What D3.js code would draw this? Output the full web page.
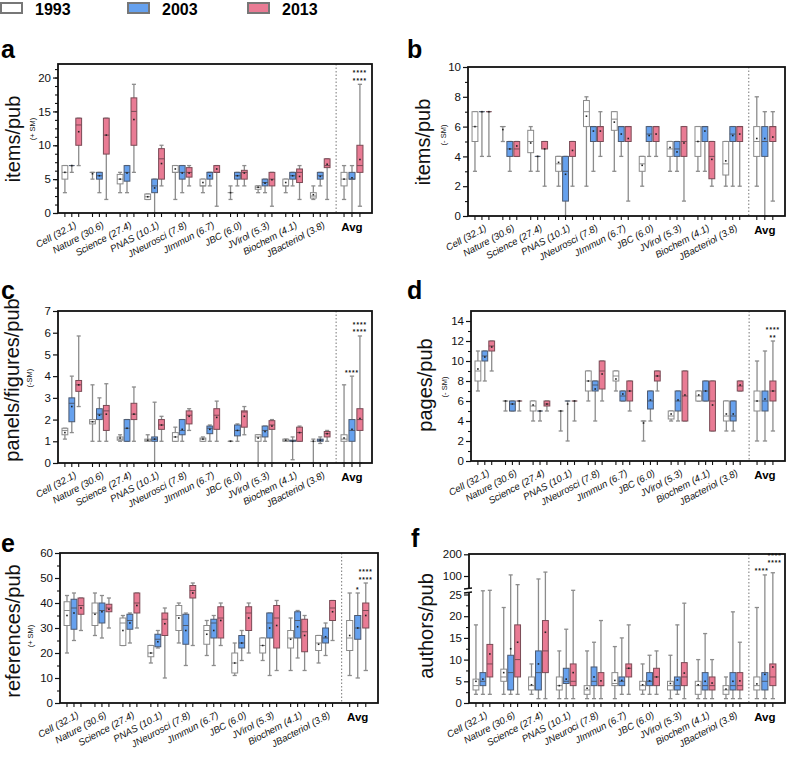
<!DOCTYPE html>
<html><head><meta charset="utf-8">
<script src="https://cdn.jsdelivr.net/npm/d3@7"></script>
<style>body{margin:0;background:#fff}svg{display:block;font-family:"Liberation Sans",Arial,sans-serif}</style>
</head><body><svg id="c" width="787" height="757"></svg>
<script>
// ---------- DATA ----------
const categories = ["Cell (32.1)","Nature (30.6)","Science (27.4)","PNAS (10.1)","JNeurosci (7.8)","JImmun (6.7)","JBC (6.0)","JVirol (5.3)","Biochem (4.1)","JBacteriol (3.8)","Avg"];
const categoriesF = ["Cell (32.1)","Nature (30.6)","Science (27.4)","PNAS (10.1)","JNeuroci (7.8)","JImmun (6.7)","JBC (6.0)","JVirol (5.3)","Biochem (4.1)","JBacteriol (3.8)","Avg"];
const years = ["1993","2003","2013"];
// each entry: [min, q1, median, q3, max, mean]
const a1993 = [[3,5,6,7,7,6],[5,6,6,6,6,5.8],[3,4.3,5,5.7,6,5],[2,2,2.4,2.8,2.8,2.4],[2,6,6,7,7,6.5],[3,4,4,5,5,4.5],[2,3,3,3,4,3],[3,3.5,3.8,4,4,3.8],[3,4,4,5,5,4.5],[2,2.2,2.5,3,4,2.7],[2,4,5,6,7,5]];
const a2003 = [[6,7,7,7,7,7],[3,5,5.5,6,6,5.5],[3,4.7,6,7,7,5.9],[0,3,4,5,5,3.7],[3,5,6,7,7,5.9],[4,5,6,6,6,5.5],[4,5,5.5,6,6,5.5],[3,4,4.5,5,5,4.4],[4,5,5.5,6,6,5.5],[4,5,5.5,6,6,5.4],[0,5,5,6,7,5.2]];
const a2013 = [[7,10,13,14,14,12],[2,8.7,11.5,14,14,11.5],[6,10,15,17,19,13.8],[4,5,8,9.5,10,7.3],[4,5.3,6,6.7,7,5.9],[1,6,6,7,7,6.5],[4,5,6,6.3,7,5.9],[1,4,5,6,6,4.9],[2,4.5,6,6.5,7,5.4],[2,6.7,7,8,8,7.2],[1,6,7,10,19,7.9]];

const b1993 = [[3,5,6,7,7,6],[5,6,6,6,6,5.8],[3,4.25,5,5.75,6,4.9],[2,3,3.5,4,4,3.6],[2,6,7,7.75,8,6.7],[3,5.75,6.5,7,7,6.3],[2,3,3.5,4,4,3.4],[3,4,4.5,5,5,4.6],[3,4,5,6,6,5],[2,2.75,3.5,5,5,3.7],[2,4,5,6,8,5.2]];
const b2003 = [[4,7,7,7,7,7],[3,4,4.5,5,5,4.5],[3,4,4,4,4,4],[0,1,3,4,4,2.8],[3,5,6,6,6,5.7],[4,5,6,6,6,5.5],[4,5,5.5,6,6,5.4],[3,4,4.5,5,5,4.3],[3,5,6,6,6,5.7],[2,5,5.5,6,6,5.4],[0,4,5,6,7,5.2]];
const b2013 = [[4,7,7,7,7,7],[4,4,4.5,5,5,4.7],[2,4.5,5,5,5,4.5],[2,4,5,5,5,4.4],[4,5,6,6,7,5.7],[1,5,6,6,6,5.2],[4,5,6,6,6,5.5],[1,4,5,6,6,4.9],[2,2.5,4,5,5,3.8],[2,5,6,6,6,5.5],[1,5,6,6,7,5.3]];

const c1993 = [[1.1,1.3,1.5,1.6,1.6,1.4],[1,1.8,1.9,2.0,3.6,1.9],[1,1.05,1.1,1.2,1.3,1.15],[1,1,1.05,1.1,1.3,1.05],[1,1,1.2,1.4,1.65,1.2],[1,1,1.1,1.15,1.2,1.1],[1,1,1,1,1,1],[0,1,1.2,1.3,1.3,1.15],[1,1,1.05,1.1,1.1,1.05],[0,1,1,1,1.1,1],[0,1,1.1,1.3,3.6,1.15]];
const c2003 = [[1.4,1.9,2.75,3.0,4.0,2.6],[1,2,2.25,2.5,3,2.2],[1,1,1.6,2,2,1.6],[0,1,1.1,1.2,2.8,1.1],[1,1.3,1.5,2,2,1.55],[1,1.35,1.6,1.7,1.75,1.55],[1,1.25,1.5,1.75,1.8,1.5],[1,1.2,1.5,1.7,1.7,1.45],[0.15,1,1.02,1.05,1.2,1.0],[0.9,1,1.05,1.1,1.2,1.05],[0,1,1.5,2,4,1.55]];
const c2013 = [[2.6,3.3,3.6,3.8,5.85,3.6],[1,1.5,2.4,2.65,3.65,2.25],[1,2,2.25,2.75,3.5,2.25],[1,1.55,1.75,2.0,2.15,1.75],[1.5,1.8,2.2,2.4,2.5,2.15],[1,1.55,2.2,2.5,2.85,2.1],[1.3,1.65,2.35,2.4,2.6,2.15],[0,1.55,1.75,1.95,2.0,1.7],[1,1,1.4,1.65,1.7,1.4],[1,1.2,1.35,1.45,1.5,1.35],[0,1.5,2,2.5,5.85,2.05]];

const d1993 = [[7,8,9,10,11,9.2],[5,6,6,6,6,6],[4,5,5.5,6,6,5.6],[3,5,5,5,5,5],[6,7,8,9,9,8],[7,8,8.5,9,9,8.2],[2,4,4,4,4,3.8],[4,4.2,4.5,5,5,4.7],[6,6,6.5,7,7,6.6],[3,4,4.5,6,6,4.7],[2,5,6,7,10,6]];
const d2003 = [[8,10,10.5,11,11,10.4],[5,5,5.7,6,6,5.7],[4,5,5,5,5,5],[2,6,6,6,6,5.7],[4,7,7.6,8,8,7.2],[6,6,6.5,7,7,6.7],[4,5.2,6,7,7,6.1],[4,5,6,7,7,6.1],[6,6,7,8,8,7],[3,4,4.5,6,6,4.7],[2,5,6,7,11,6.2]];
const d2013 = [[9,11,11.5,12,12,11.4],[5,6,6,6,6,6],[5,5.5,5.7,6,6,5.7],[4,6,6,6,6,6],[6,7.2,9,10,10,8.7],[5,6,7,8,8,7],[7,8,8.5,9,9,8.5],[4,4,6.5,9,9,6.6],[3,3,6,8,8,5.6],[7,7,7.5,8,8,7.6],[3,6,7,8,12,7]];

const e1993 = [[20,31,37,40.5,43,35],[27,31,36,40,44,35.5],[23,23,32,34,35,29],[16,18.5,20,23,23,20],[24,29,35,39,40,34],[19,23.5,29,31,33,27.5],[11,12,16,20,24,16],[17,20,23,26,26,23],[13,22,26,29,34,25.5],[16,21,24,27,27,23.5],[11,21,26,33,44,27]];
const e2003 = [[25,29.5,38,41.5,44,36],[26,32,37,40,43,36.5],[24,29.5,33,35.5,36,32],[22,22.5,25.5,27.5,29,24.5],[15,23.5,31,35.5,36,29],[15,26,32,33.5,35,29],[17,22,24,27,29,24],[11,26,32,36,36,30],[18,26,33,36.5,37,30.5],[19,24,26,30,32,26.5],[10,25.5,30,35,44,30]];
const e2013 = [[29,35.5,39,42,42,38],[30,36.5,38,39.5,42,37.5],[30,36,40,44,44,39],[10,27,33.5,36,38,31.7],[23,42,45,47,48,44],[23,26,34,38.5,40,33],[20,29,36,38.5,40,34],[13,22,34,39,41,31],[13,20.5,28.5,33.5,35,27],[25,33,38,41,41,36.5],[13,30,37,40,48,35]];

const f1993 = [[2,3,4,5.5,18,5],[2,5,6,7.8,22,7],[2,3,4,6,9,4.2],[1,3,4,6,12,4],[1,2,3,4,12,3.4],[1,4,4.5,7,13,5.2],[2,3,4,5,9,4.2],[1,3,4,5,11,4.5],[1,2,4,5,10,4.2],[1,2,3,4,6,3.2],[1,3,4,6,22,4.4]];
const f2003 = [[2,4,5,7,40,5.5],[2,3,7,11,105,12.5],[1,3,7,12,88,9],[1,4.5,5,8,17,5.5],[1,4,5,8.3,14,6],[2,4,5,6,15,5.2],[2,4,5,7,11,5.1],[2,3,4,6,18,5.3],[1,3,4,7,16,5],[1,3,4,7,21,5],[1,3,5,7,105,6.6]];
const f2013 = [[2,6,9,13.5,42,11.3],[2,6,10,18,65,14],[1,7,12,19,118,16.3],[1,4,5,9,42,7],[1,4,4,7,19,5.1],[2,6,8,9,18,8],[2,4,6,8,12,6],[1,4,6,9.3,23,6.9],[1,3,4,6,10,4.6],[1,3,4,7,14,5.1],[1,4,6,9,115,8.3]];

// significance marks on the Avg group: [seriesIndex, lines]
const starsA = [[2,["****","****"]]];
const starsC = [[1,["****"]],[2,["****","****"]]];
const starsD = [[2,["****","**"]]];
const starsE = [[1,["*"]],[2,["****","****"]]];
const starsF = [[1,["****"]],[2,["****","****"]]];

// ---------- STYLE ----------
const fills = ["#ffffff","#66a1ee","#e97b94"];
const strokes = ["#8a8a8a","#4d5a70","#7a4a55"];
const svg = d3.select("#c");

// legend
years.forEach((y,i)=>{
  const x0=[1,128,248][i];
  svg.append("rect").attr("x",x0).attr("y",3).attr("width",21).attr("height",10)
    .attr("fill",fills[i]).attr("stroke","#777").attr("stroke-width",2);
  svg.append("text").attr("x",x0+34).attr("y",14.5).attr("font-size",16).attr("font-weight","bold").text(y);
});

function drawPanel(p){
  const g = svg.append("g");
  const x = d3.scaleLinear().domain([0,45.5]).range([p.left,p.right]);
  const y = p.y;
  const slot = (i,j)=> i<10 ? 1+4*i+j : 41.45+1.15*j;
  const bw = (x(1)-x(0))*0.84;
  // y ticks
  const ax = d3.axisLeft(y).tickValues(p.ticks).tickSize(5).tickPadding(2).tickFormat(d3.format("d"));
  const axg = g.append("g").attr("transform",`translate(${p.left},0)`).call(ax);
  axg.select(".domain").remove();
  axg.selectAll("text").attr("font-size",11.5).attr("font-family","Liberation Sans, Arial").attr("fill","#111");
  axg.selectAll("line").attr("stroke","#111").attr("stroke-width",1.2);
  const mn = d3.axisLeft(y).tickValues(p.minor).tickSize(3).tickFormat("");
  const mg = g.append("g").attr("transform",`translate(${p.left},0)`).call(mn);
  mg.select(".domain").remove();
  mg.selectAll("line").attr("stroke","#111").attr("stroke-width",1.1);
  // x ticks
  const slots=[];
  for(let i=0;i<11;i++)for(let j=0;j<3;j++)slots.push(slot(i,j));
  g.selectAll(null).data(slots).enter().append("line")
    .attr("x1",d=>x(d)).attr("x2",d=>x(d)).attr("y1",p.bottom).attr("y2",p.bottom+4)
    .attr("stroke","#111").attr("stroke-width",1.1);
  // divider
  g.append("line").attr("x1",x(40.3)).attr("x2",x(40.3)).attr("y1",p.top).attr("y2",p.bottom)
    .attr("stroke","#777").attr("stroke-width",1).attr("stroke-dasharray","1.5,2");
  // boxes
  p.data.forEach((ser,j)=>{
    ser.forEach((v,i)=>{
      const cx=x(slot(i,j)), w = i<10?bw:bw*1.05;
      const [mi,q1,md,q3,ma,me]=v;
      g.append("line").attr("x1",cx).attr("x2",cx).attr("y1",y(mi)).attr("y2",y(ma))
        .attr("stroke","#8c8c8c").attr("stroke-width",1.3);
      [mi,ma].forEach(c=>g.append("line").attr("x1",cx-w*0.35).attr("x2",cx+w*0.35)
        .attr("y1",y(c)).attr("y2",y(c)).attr("stroke","#8c8c8c").attr("stroke-width",1.3));
      g.append("rect").attr("x",cx-w/2).attr("y",y(q3)).attr("width",w).attr("height",Math.max(0,y(q1)-y(q3)))
        .attr("fill",fills[j]).attr("stroke",strokes[j]).attr("stroke-width",1);
      g.append("line").attr("x1",cx-w/2).attr("x2",cx+w/2).attr("y1",y(md)).attr("y2",y(md))
        .attr("stroke",strokes[j]).attr("stroke-width",1);
      g.append("rect").attr("x",cx-0.8).attr("y",y(me)-0.8).attr("width",1.6).attr("height",1.6).attr("fill","#222");
    });
  });
  // stars
  const LS = 7.6;
  p.stars.forEach(([j,lines],k)=>{
    const cx=x(slot(10,j))+((p.starDx&&p.starDx[k])||0), top=y(p.data[j][10][4]);
    const off = (p.starOff && p.starOff[k]) || 0;
    const base = top-1.5+off-(lines.length-1)*LS;
    lines.forEach((s,n)=>g.append("text").attr("x",cx).attr("y",base+n*LS).attr("text-anchor","middle")
      .attr("font-size",6.5).attr("letter-spacing",1).attr("font-weight","bold").attr("fill","#111").text(s));
  });
  // frame
  g.append("rect").attr("x",p.left).attr("y",p.top).attr("width",p.right-p.left).attr("height",p.bottom-p.top)
    .attr("fill","none").attr("stroke","#111").attr("stroke-width",1.8);
  if(p.brk){
    const yb=p.brk;
    g.append("rect").attr("x",p.left-5).attr("y",yb-2).attr("width",8).attr("height",4).attr("fill","#fff");
    [yb-2,yb+2].forEach(yy=>g.append("line").attr("x1",p.left-5).attr("x2",p.left+3).attr("y1",yy).attr("y2",yy-1).attr("stroke","#111").attr("stroke-width",1.3));
  }
  // x labels
  p.cats.forEach((c,i)=>{
    if(i<10){
      const gx=x(slot(i,1))+2, gy=p.bottom+8;
      g.append("text").attr("transform",`translate(${gx},${gy}) rotate(-28)`)
        .attr("text-anchor","end").attr("dy","0.72em").attr("font-size",9.6).attr("font-style","italic").attr("fill","#111").text(c);
    } else {
      g.append("text").attr("x",x(slot(10,1))).attr("y",p.bottom+18).attr("text-anchor","middle")
        .attr("font-size",11.5).attr("font-weight","bold").text(c);
    }
  });
  // y label
  g.append("text").attr("transform",`translate(${p.lx},${p.ly}) rotate(-90)`).attr("text-anchor","middle")
    .attr("font-size",20).attr("fill","#111").text(p.label);
  if(p.sub) g.append("text").attr("transform",`translate(${p.sx},${p.sy}) rotate(-90)`).attr("text-anchor","middle")
    .attr("font-size",7.5).attr("fill","#111").text(p.sub);
  g.append("text").attr("x",p.px).attr("y",p.py).attr("font-size",25).attr("font-weight","bold").text(p.letter);
}

const rng = d3.range;
drawPanel({letter:"a",px:1,py:58,left:58,right:372,top:64,bottom:213,
  y:d3.scaleLinear().domain([0,22]).range([213,64]),ticks:[0,5,10,15,20],minor:rng(0,22,1.25),
  data:[a1993,a2003,a2013],stars:starsA,cats:categories,label:"items/pub",lx:20,ly:139,sub:"(+ SM)",sx:35,sy:129});
drawPanel({letter:"b",px:407,py:58,left:468,right:785,top:67,bottom:216,
  y:d3.scaleLinear().domain([0,10]).range([216,67]),ticks:[0,2,4,6,8,10],minor:rng(1,10,2),
  data:[b1993,b2003,b2013],stars:[],cats:categories,label:"items/pub",lx:430,ly:142,sub:"(- SM)",sx:446,sy:135});
drawPanel({letter:"c",px:1,py:299,left:58,right:372,top:311,bottom:463,
  y:d3.scaleLinear().domain([0,7]).range([463,311]),ticks:[0,1,2,3,4,5,6,7],minor:[],
  data:[c1993,c2003,c2013],stars:starsC,cats:categories,label:"panels/figures/pub",lx:19,ly:380,sub:"(-SM)",sx:32,sy:378});
drawPanel({letter:"d",px:407,py:299,left:471,right:785,top:311,bottom:461,
  y:d3.scaleLinear().domain([0,15]).range([461,311]),ticks:[0,2,4,6,8,10,12,14],minor:rng(1,15,2),
  data:[d1993,d2003,d2013],stars:starsD,cats:categories,label:"pages/pub",lx:432,ly:385,sub:"(- SM)",sx:447,sy:387});
drawPanel({letter:"e",px:1,py:552,left:60,right:378,top:553,bottom:703,
  y:d3.scaleLinear().domain([0,60]).range([703,553]),ticks:[0,10,20,30,40,50,60],minor:rng(5,60,10),
  data:[e1993,e2003,e2013],stars:starsE,cats:categories,label:"references/pub",lx:20,ly:631,sub:"(+ SM)",sx:33,sy:636});
drawPanel({letter:"f",px:411,py:547,left:469,right:785,top:554,bottom:703,
  y:d3.scaleLinear().domain([0,25,100,200]).range([703,594.5,576,554.3]),ticks:[0,5,10,15,20,25,100,200],minor:rng(2.5,25,5),
  data:[f1993,f2003,f2013],stars:starsF,starOff:[0,-6],starDx:[-3,2],cats:categoriesF,label:"authors/pub",lx:433,ly:626,sub:null,brk:591});
</script></body></html>
